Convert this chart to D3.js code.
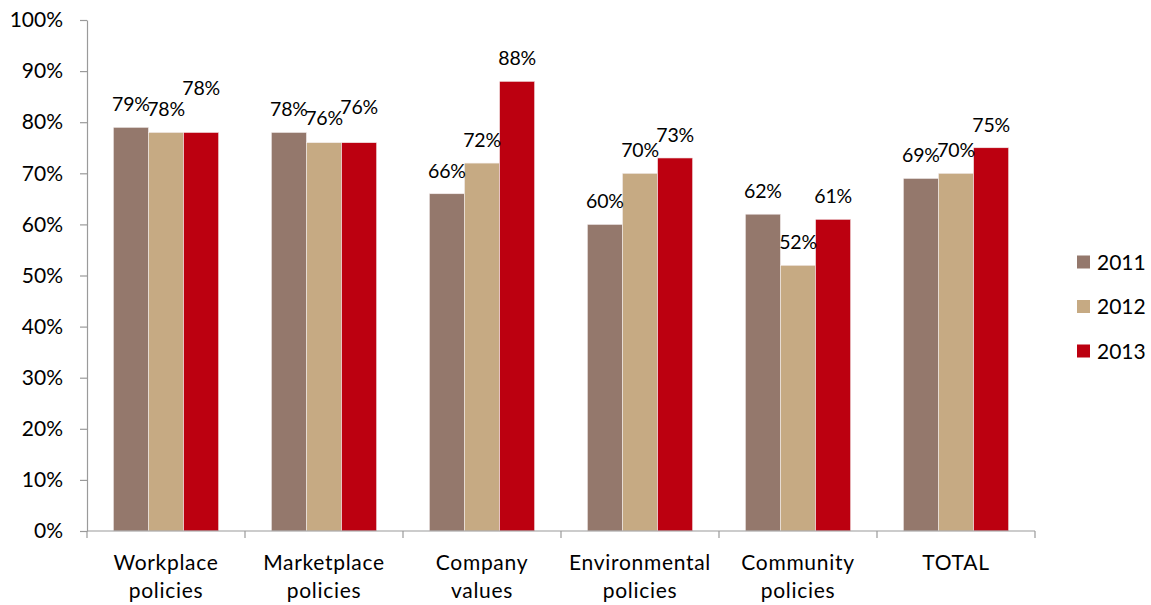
<!DOCTYPE html>
<html>
<head>
<meta charset="utf-8">
<script src="https://cdn.jsdelivr.net/npm/d3@7"></script>
<style>
  html, body { margin: 0; padding: 0; background: #fff; }
  svg { display: block; }
  text { font-family: Lato, "Open Sans", sans-serif; fill: #000; }
</style>
</head>
<body>
<svg id="chart" width="1151" height="605"></svg>
<script>
// Share of respondents by policy area and survey year (%)
const categories = [
  ["Workplace", "policies"],
  ["Marketplace", "policies"],
  ["Company", "values"],
  ["Environmental", "policies"],
  ["Community", "policies"],
  ["TOTAL"]
];
const years = ["2011", "2012", "2013"];
const values2011 = [79, 78, 66, 60, 62, 69];
const values2012 = [78, 76, 72, 70, 52, 70];
const values2013 = [78, 76, 88, 73, 61, 75];
const yTicks = [0, 10, 20, 30, 40, 50, 60, 70, 80, 90, 100];

// Layout and styling
const colors = { "2011": "#94786C", "2012": "#C6AA83", "2013": "#BC0010" };
const plot = { left: 87, right: 1035, top: 20, bottom: 531 };
const fontSize = 21;
const valueFontSize = 19.5;
// extra vertical lift (px) for a couple of crowded value labels
const labelLift = { "0|2013": 21, "1|2013": 13, "1|2012": 1.5 };

const seriesValues = { "2011": values2011, "2012": values2012, "2013": values2013 };
const catKeys = categories.map((c, i) => i);

const svg = d3.select("#chart");

const x = d3.scaleBand().domain(catKeys).range([plot.left, plot.right]).paddingInner(0).paddingOuter(0);
const bw = x.bandwidth();
const barW = bw / 4.5;               // gap between groups = 1.5 bar widths
const xInner = d3.scaleBand().domain(years).range([barW * 0.75, bw - barW * 0.75]).padding(0);
const y = d3.scaleLinear().domain([0, 100]).range([plot.bottom, plot.top]);

// Bars
const rows = [];
catKeys.forEach(i => years.forEach(yr => rows.push({ cat: i, year: yr, value: seriesValues[yr][i] })));

svg.append("g").selectAll("rect").data(rows).join("rect")
  .attr("x", d => x(d.cat) + xInner(d.year))
  .attr("y", d => y(d.value))
  .attr("width", xInner.bandwidth())
  .attr("height", d => y(0) - y(d.value))
  .attr("fill", d => colors[d.year])
  .attr("stroke", "#f4eeee")
  .attr("stroke-width", 0.6);

// Value labels
svg.append("g").selectAll("text").data(rows).join("text")
  .attr("x", d => x(d.cat) + xInner(d.year) + xInner.bandwidth() / 2)
  .attr("y", d => y(d.value) - 23 - (labelLift[d.cat + "|" + d.year] || 0))
  .attr("dy", "0.36em")
  .attr("text-anchor", "middle")
  .style("font-size", valueFontSize + "px")
  .style("letter-spacing", "-0.2px")
  .text(d => d.value + "%");

// Y axis
const yAxis = svg.append("g")
  .attr("transform", `translate(${plot.left},0)`)
  .call(d3.axisLeft(y).tickValues(yTicks).tickFormat(d => d + "%").tickSize(7).tickSizeOuter(0).tickPadding(17));
yAxis.select(".domain").attr("stroke", "#9a9a9a").attr("stroke-width", 1.2);
yAxis.selectAll(".tick line").attr("stroke", "#9a9a9a").attr("stroke-width", 1.2);
yAxis.selectAll(".tick text").style("font-size", fontSize + "px").style("font-family", "Lato, 'Open Sans', sans-serif").attr("fill", "#000");

// X axis: baseline and group boundary ticks
const xAxis = svg.append("g");
xAxis.append("line")
  .attr("x1", plot.left).attr("x2", plot.right)
  .attr("y1", y(0)).attr("y2", y(0))
  .attr("stroke", "#9a9a9a").attr("stroke-width", 1.2);
const bounds = catKeys.map(i => x(i)).concat([x.range()[1]]);
xAxis.selectAll("line.b").data(bounds).join("line")
  .attr("class", "b")
  .attr("x1", d => d).attr("x2", d => d)
  .attr("y1", y(0)).attr("y2", y(0) + 7)
  .attr("stroke", "#9a9a9a").attr("stroke-width", 1.2);

const catLabels = xAxis.selectAll("text").data(catKeys).join("text")
  .attr("text-anchor", "middle")
  .attr("x", i => x(i) + bw / 2)
  .attr("y", 570)
  .style("font-size", fontSize + "px")
  .style("letter-spacing", "0.7px");
catLabels.each(function (i) {
  const t = d3.select(this);
  categories[i].forEach((line, k) => {
    t.append("tspan").attr("x", x(i) + bw / 2).attr("dy", k === 0 ? 0 : 28).text(line);
  });
});

// Legend
const legend = svg.append("g");
const legendY = d3.scalePoint().domain(years).range([262, 351]);
legend.selectAll("rect").data(years).join("rect")
  .attr("x", 1077).attr("y", d => legendY(d) - 6.5)
  .attr("width", 13).attr("height", 13)
  .attr("fill", d => colors[d]);
legend.selectAll("text").data(years).join("text")
  .attr("x", 1097).attr("y", d => legendY(d))
  .attr("dy", "0.36em")
  .style("font-size", fontSize + "px")
  .text(d => d);
</script>
</body>
</html>
